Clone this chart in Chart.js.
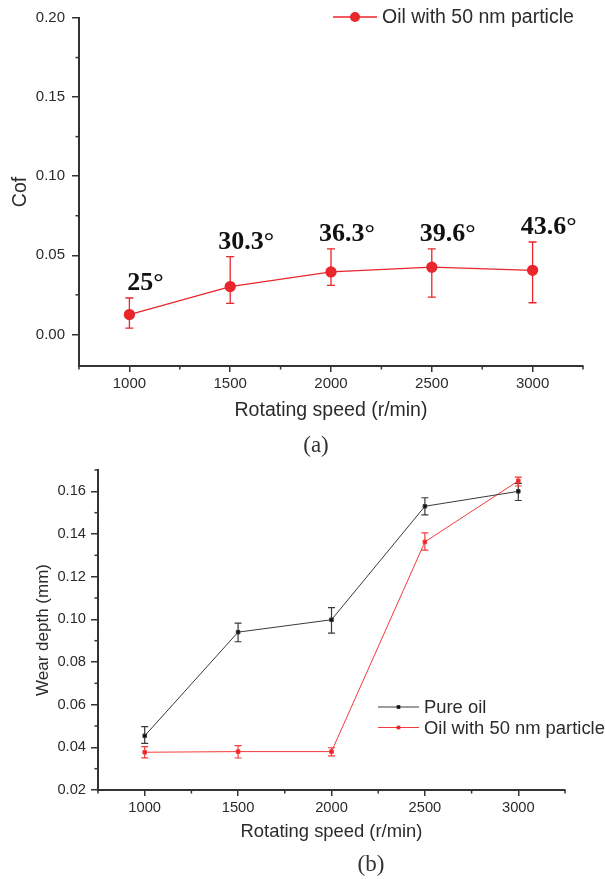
<!DOCTYPE html>
<html>
<head>
<meta charset="utf-8">
<script src="https://cdn.jsdelivr.net/npm/chart.js@4.4.1/dist/chart.umd.min.js"></script>
<style>
  body { margin: 0; background: #fff; width: 605px; height: 879px; position: relative; overflow: hidden; }
  canvas { position: absolute; left: 0; }
  #chartA { top: 0; }
  #chartB { top: 430px; }
  .cap { position: absolute; font-family: "Liberation Serif", serif; font-size: 23px; color: #333; transform: translate(-50%, -50%); }
</style>
</head>
<body>
<canvas id="chartA" width="605" height="430"></canvas>
<canvas id="chartB" width="605" height="449"></canvas>
<div class="cap" style="left:316px; top:445px;">(a)</div>
<div class="cap" style="left:371px; top:864px;">(b)</div>

<script>
// rotating speed (r/min)
const speeds = [1000, 1500, 2000, 2500, 3000];
const speedTicks = [1000, 1500, 2000, 2500, 3000];

// (a) friction coefficient, oil with 50 nm particle
const cofMean = [0.0125, 0.0302, 0.0395, 0.0425, 0.0405];
const cofLow  = [0.0040, 0.0196, 0.0310, 0.0236, 0.0200];
const cofHigh = [0.0230, 0.0492, 0.0540, 0.0540, 0.0584];
const angleLabels = ['25°', '30.3°', '36.3°', '39.6°', '43.6°'];

// (b) wear depth (mm)
const pureMean = [0.0454, 0.0940, 0.0998, 0.1530, 0.1600];
const pureLow  = [0.0419, 0.0895, 0.0935, 0.1490, 0.1557];
const pureHigh = [0.0497, 0.0982, 0.1055, 0.1570, 0.1637];
const partMean = [0.0377, 0.0380, 0.0380, 0.1363, 0.1649];
const partLow  = [0.0351, 0.0350, 0.0360, 0.1324, 0.1625];
const partHigh = [0.0403, 0.0408, 0.0398, 0.1405, 0.1667];

// axis ranges
const speedRange = [750, 3250];
const cofRange = [-0.02, 0.20];
const wearRange = [0.02, 0.17];

const TXT = '#2b2b2b';
const AX = '#333';
const RED_A = '#e8262b';
const RED_B = '#f43a3a';
const BLACK_B = '#3a3a3a';

function pts(vals) {
    return speeds.map((s, i) => ({ x: s, y: vals[i] }));
}

// vertical error bars with caps
const errorBars = {
    id: 'errorBars',
    beforeDatasetsDraw(chart) {
        const { ctx, scales: { x, y } } = chart;
        chart.data.datasets.forEach(ds => {
            if (!ds.errLow) return;
            const cap = ds.errCap || 4;
            ctx.save();
            ctx.strokeStyle = ds.borderColor;
            ctx.lineWidth = ds.errWidth || 1;
            ds.data.forEach((p, i) => {
                const px = x.getPixelForValue(p.x);
                const top = y.getPixelForValue(ds.errHigh[i]);
                const bot = y.getPixelForValue(ds.errLow[i]);
                ctx.beginPath();
                ctx.moveTo(px, top); ctx.lineTo(px, bot);
                ctx.moveTo(px - cap, top); ctx.lineTo(px + cap, top);
                ctx.moveTo(px - cap, bot); ctx.lineTo(px + cap, bot);
                ctx.stroke();
            });
            ctx.restore();
        });
    }
};

// short minor ticks between the labelled ones
const minorTicks = {
    id: 'minorTicks',
    afterDraw(chart, args, opts) {
        const ctx = chart.ctx;
        const area = chart.chartArea;
        ctx.save();
        ctx.strokeStyle = AX;
        ctx.lineWidth = 1.5;
        ['x', 'y'].forEach(id => {
            const s = chart.scales[id];
            const step = opts[id];
            const major = s.options.ticks.stepSize;
            const k0 = Math.ceil(s.min / step - 1e-6);
            const k1 = Math.floor(s.max / step + 1e-6);
            for (let k = k0; k <= k1; k++) {
                const v = k * step;
                const r = v / major;
                if (Math.abs(r - Math.round(r)) < 1e-6) continue;
                const p = s.getPixelForValue(v);
                ctx.beginPath();
                if (id === 'x') {
                    ctx.moveTo(p, area.bottom); ctx.lineTo(p, area.bottom + 3.5);
                } else {
                    ctx.moveTo(area.left - 3.5, p); ctx.lineTo(area.left, p);
                }
                ctx.stroke();
            }
        });
        ctx.restore();
    }
};

// contact angle labels above the error bars
const angleText = {
    id: 'angleText',
    afterDatasetsDraw(chart, args, opts) {
        if (!opts.labels) return;
        const { ctx, scales: { x, y } } = chart;
        ctx.save();
        ctx.font = 'bold 26px "Liberation Serif", serif';
        ctx.fillStyle = '#111';
        ctx.textAlign = 'center';
        ctx.textBaseline = 'alphabetic';
        opts.labels.forEach((t, i) => {
            const px = x.getPixelForValue(speeds[i]) + 16;
            const py = y.getPixelForValue(cofHigh[i]) - 8;
            ctx.fillText(t, px, py);
        });
        ctx.restore();
    }
};

// legend drawn inside the plot area
const innerLegend = {
    id: 'innerLegend',
    afterDraw(chart, args, opts) {
        const ctx = chart.ctx;
        ctx.save();
        ctx.font = opts.font;
        ctx.textBaseline = 'middle';
        ctx.textAlign = 'left';
        chart.data.datasets.forEach((ds, i) => {
            const yy = opts.y + i * opts.rowGap;
            ctx.strokeStyle = ds.borderColor;
            ctx.lineWidth = ds.borderWidth;
            ctx.beginPath();
            ctx.moveTo(opts.x0, yy); ctx.lineTo(opts.x1, yy);
            ctx.stroke();
            ctx.fillStyle = ds.backgroundColor;
            const cx = (opts.x0 + opts.x1) / 2;
            if (ds.pointStyle === 'rect') {
                ctx.fillRect(cx - 1.8, yy - 1.8, 3.6, 3.6);
            } else {
                ctx.beginPath();
                ctx.arc(cx, yy, ds.pointRadius, 0, Math.PI * 2);
                ctx.fill();
            }
            ctx.fillStyle = TXT;
            ctx.fillText(ds.label, opts.x1 + 5, yy + 1);
        });
        ctx.restore();
    }
};

function axisX(titleSize, titlePad, fixedH, tickSize) {
    return {
        type: 'linear',
        min: speedRange[0],
        max: speedRange[1],
        border: { display: true, color: AX, width: 2 },
        grid: { drawOnChartArea: false, drawTicks: true, tickLength: 6, color: AX, lineWidth: 1.5 },
        ticks: {
            stepSize: 500, color: TXT, padding: 3, maxRotation: 0,
            font: { family: 'Liberation Sans', size: tickSize },
            callback: v => String(v)
        },
        afterBuildTicks(s) { s.ticks = speedTicks.map(v => ({ value: v })); },
        title: { display: true, text: 'Rotating speed (r/min)', color: TXT, font: { family: 'Liberation Sans', size: titleSize }, padding: { top: titlePad, bottom: titlePad } },
        afterFit(s) { s.height = fixedH; }
    };
}

function axisY(range, step, title, titleSize, titlePad, tickSize, tickPad, fixedW) {
    return {
        type: 'linear',
        min: range[0],
        max: range[1],
        border: { display: true, color: AX, width: 2 },
        grid: { drawOnChartArea: false, drawTicks: true, tickLength: 7, color: AX, lineWidth: 1.5 },
        ticks: {
            stepSize: step, includeBounds: false, color: TXT, padding: tickPad,
            font: { family: 'Liberation Sans', size: tickSize },
            callback: v => v.toFixed(2)
        },
        title: { display: true, text: title, color: TXT, font: { family: 'Liberation Sans', size: titleSize }, padding: { top: titlePad, bottom: titlePad } },
        afterFit(s) { s.width = fixedW; }
    };
}

window.onload = function() {
    new Chart(document.getElementById('chartA').getContext('2d'), {
        type: 'scatter',
        data: {
            datasets: [{
                label: 'Oil with 50 nm particle',
                data: pts(cofMean),
                showLine: true,
                borderColor: RED_A,
                backgroundColor: RED_A,
                borderWidth: 1.3,
                pointRadius: 5,
                pointHoverRadius: 5,
                errLow: cofLow,
                errHigh: cofHigh,
                errCap: 4,
                errWidth: 1.3
            }]
        },
        options: {
            responsive: false,
            animation: false,
            layout: { padding: { left: 0, right: 22, top: 18, bottom: 0 } },
            scales: {
                x: axisX(19.5, 8, 64, 15),
                y: axisY(cofRange, 0.05, 'Cof', 19.5, 9, 15, 7, 79)
            },
            plugins: {
                legend: { display: false },
                tooltip: { enabled: false },
                minorTicks: { x: 250, y: 0.025 },
                angleText: { labels: angleLabels },
                innerLegend: { x0: 333, x1: 377, y: 17, rowGap: 0, font: '19.5px "Liberation Sans"' }
            }
        },
        plugins: [errorBars, minorTicks, angleText, innerLegend]
    });

    new Chart(document.getElementById('chartB').getContext('2d'), {
        type: 'scatter',
        data: {
            datasets: [{
                label: 'Pure oil',
                data: pts(pureMean),
                showLine: true,
                borderColor: BLACK_B,
                backgroundColor: '#111',
                borderWidth: 1,
                pointStyle: 'rect',
                pointRadius: 2.5,
                pointHoverRadius: 2.5,
                errLow: pureLow,
                errHigh: pureHigh,
                errCap: 3.5,
                errWidth: 1.2
            }, {
                label: 'Oil with 50 nm particle',
                data: pts(partMean),
                showLine: true,
                borderColor: RED_B,
                backgroundColor: '#e8202a',
                borderWidth: 1,
                pointStyle: 'rect',
                pointRadius: 2.5,
                pointHoverRadius: 2.5,
                errLow: partLow,
                errHigh: partHigh,
                errCap: 3.5,
                errWidth: 1.2
            }]
        },
        options: {
            responsive: false,
            animation: false,
            layout: { padding: { left: 0, right: 40, top: 40, bottom: 0 } },
            scales: {
                x: axisX(18.4, 36, 89, 14.7),
                y: axisY(wearRange, 0.02, 'Wear depth (mm)', 17, 33, 14.7, 5, 98)
            },
            plugins: {
                legend: { display: false },
                tooltip: { enabled: false },
                minorTicks: { x: 250, y: 0.01 },
                angleText: {},
                innerLegend: { x0: 378, x1: 419, y: 277, rowGap: 20.5, font: '18.4px "Liberation Sans"' }
            }
        },
        plugins: [errorBars, minorTicks, angleText, innerLegend]
    });
};
</script>
</body>
</html>
